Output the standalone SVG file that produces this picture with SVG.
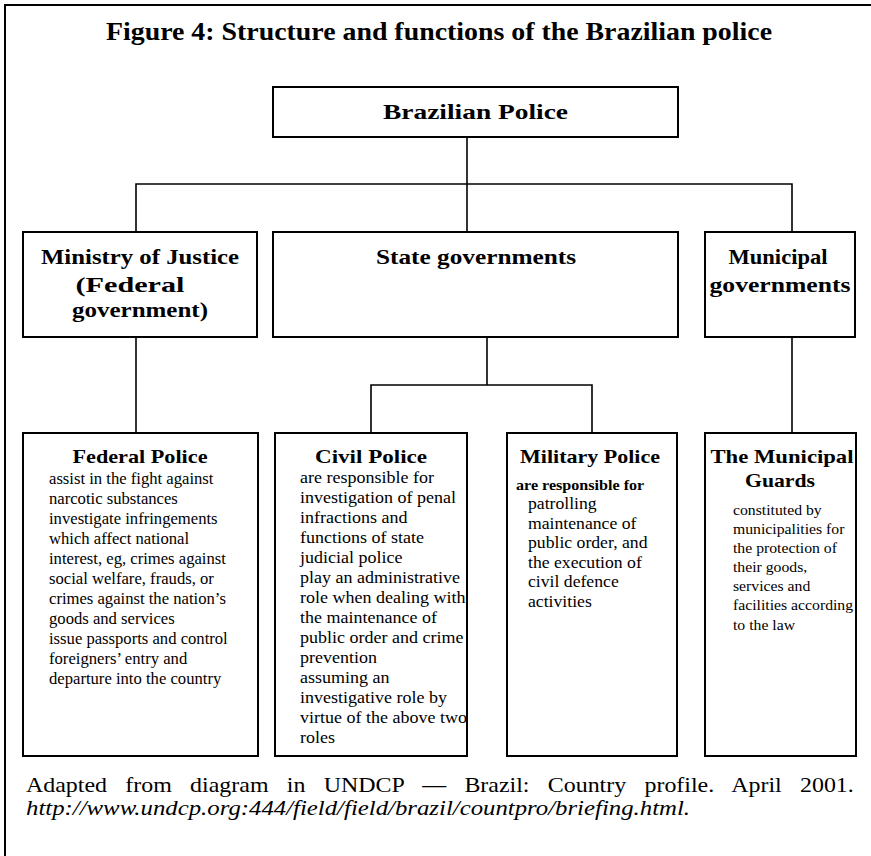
<svg xmlns="http://www.w3.org/2000/svg" width="871" height="856" viewBox="0 0 871 856">
<style>
.box{fill:none;stroke:#000;stroke-width:2}
.conn path{stroke:#000;stroke-width:1.6;fill:none}
.frame path{stroke:#000;stroke-width:2;fill:none}
text{font-family:"Liberation Serif","Times New Roman",serif;fill:#000}
.t1{font-size:25px;font-weight:bold}
.h2{font-size:22px;font-weight:bold}
.h3{font-size:19px;font-weight:bold}
.bf{font-size:16px}
.bc{font-size:17px}
.bm{font-size:17px}
.bmb{font-size:15.5px;font-weight:bold}
.bg{font-size:15px}
.cap{font-size:21px}
.url{font-size:21px;font-style:italic}
</style>
<rect width="871" height="856" fill="#fff"/>
<g class="frame"><path d="M4,5 H871 M5,4 V856"/></g>
<text class="t1" x="439" y="40" text-anchor="middle" textLength="666" lengthAdjust="spacingAndGlyphs">Figure 4: Structure and functions of the Brazilian police</text>

<g class="conn">
<path d="M467,137 V184"/>
<path d="M136,232 V184 H792 V232"/>
<path d="M467,184 V232"/>
<path d="M136,337 V433"/>
<path d="M487,337 V385"/>
<path d="M371,433 V385 H592 V433"/>
<path d="M792,337 V433"/>
</g>

<g id="brazilian-police">
<rect class="box" x="273" y="87" width="405" height="50"/>
<text class="h2" x="475.5" y="119" text-anchor="middle" textLength="185" lengthAdjust="spacingAndGlyphs">Brazilian Police</text>
</g>

<g id="ministry-of-justice">
<rect class="box" x="23" y="232" width="234" height="105"/>
<text class="h2" x="140" y="264" text-anchor="middle" textLength="198" lengthAdjust="spacingAndGlyphs">Ministry of Justice</text>
<text class="h2" x="130" y="292" text-anchor="middle" textLength="109" lengthAdjust="spacingAndGlyphs">(Federal</text>
<text class="h2" x="140" y="317" text-anchor="middle" textLength="136" lengthAdjust="spacingAndGlyphs">government)</text>
</g>

<g id="state-governments">
<rect class="box" x="273" y="232" width="405" height="105"/>
<text class="h2" x="476" y="264" text-anchor="middle" textLength="200" lengthAdjust="spacingAndGlyphs">State governments</text>
</g>

<g id="municipal-governments">
<rect class="box" x="705" y="232" width="150" height="105"/>
<text class="h2" x="778" y="264" text-anchor="middle" textLength="99" lengthAdjust="spacingAndGlyphs">Municipal</text>
<text class="h2" x="780" y="292" text-anchor="middle" textLength="141" lengthAdjust="spacingAndGlyphs">governments</text>
</g>

<g id="federal-police">
<rect class="box" x="23" y="433" width="235" height="323"/>
<text class="h3" x="140" y="463" text-anchor="middle" textLength="135" lengthAdjust="spacingAndGlyphs">Federal Police</text>
<g transform="translate(49 0) scale(1.04 1)" class="bf">
<text x="0" y="484">assist in the fight against</text>
<text x="0" y="504">narcotic substances</text>
<text x="0" y="524">investigate infringements</text>
<text x="0" y="544">which affect national</text>
<text x="0" y="564">interest, eg, crimes against</text>
<text x="0" y="584">social welfare, frauds, or</text>
<text x="0" y="604">crimes against the nation’s</text>
<text x="0" y="624">goods and services</text>
<text x="0" y="644">issue passports and control</text>
<text x="0" y="664">foreigners’ entry and</text>
<text x="0" y="684">departure into the country</text>
</g>
</g>

<g id="civil-police">
<rect class="box" x="275" y="433" width="192" height="323"/>
<text class="h3" x="371" y="463" text-anchor="middle" textLength="112" lengthAdjust="spacingAndGlyphs">Civil Police</text>
<g transform="translate(300 0) scale(1.06 1)" class="bc">
<text x="0" y="483">are responsible for</text>
<text x="0" y="503">investigation of penal</text>
<text x="0" y="523">infractions and</text>
<text x="0" y="543">functions of state</text>
<text x="0" y="563">judicial police</text>
<text x="0" y="583">play an administrative</text>
<text x="0" y="603">role when dealing with</text>
<text x="0" y="623">the maintenance of</text>
<text x="0" y="643">public order and crime</text>
<text x="0" y="663">prevention</text>
<text x="0" y="683">assuming an</text>
<text x="0" y="703">investigative role by</text>
<text x="0" y="723">virtue of the above two</text>
<text x="0" y="743">roles</text>
</g>
</g>

<g id="military-police">
<rect class="box" x="507" y="433" width="170" height="323"/>
<text class="h3" x="590" y="463" text-anchor="middle" textLength="140" lengthAdjust="spacingAndGlyphs">Military Police</text>
<g transform="translate(516 0) scale(1.04 1)">
<text class="bmb" x="0" y="490">are responsible for</text>
</g>
<g transform="translate(528 0) scale(1.04 1)" class="bm">
<text x="0" y="509.5">patrolling</text>
<text x="0" y="529">maintenance of</text>
<text x="0" y="548.5">public order, and</text>
<text x="0" y="568">the execution of</text>
<text x="0" y="587.5">civil defence</text>
<text x="0" y="607">activities</text>
</g>
</g>

<g id="municipal-guards">
<rect class="box" x="705" y="433" width="151" height="323"/>
<text class="h3" x="782" y="463" text-anchor="middle" textLength="143" lengthAdjust="spacingAndGlyphs">The Municipal</text>
<text class="h3" x="780" y="487" text-anchor="middle" textLength="70" lengthAdjust="spacingAndGlyphs">Guards</text>
<g transform="translate(733 0) scale(1.05 1)" class="bg">
<text x="0" y="515">constituted by</text>
<text x="0" y="534">municipalities for</text>
<text x="0" y="553">the protection of</text>
<text x="0" y="572">their goods,</text>
<text x="0" y="591">services and</text>
<text x="0" y="610">facilities according</text>
<text x="0" y="630">to the law</text>
</g>
</g>

<g id="caption">
<g transform="translate(26 0) scale(1.14 1)">
<text class="cap" x="0" y="792" word-spacing="10.8">Adapted from diagram in UNDCP — Brazil: Country profile. April 2001.</text>
</g>
<text class="url" x="26" y="815" textLength="664" lengthAdjust="spacingAndGlyphs">http://www.undcp.org:444/field/field/brazil/countpro/briefing.html.</text>
</g>
</svg>
